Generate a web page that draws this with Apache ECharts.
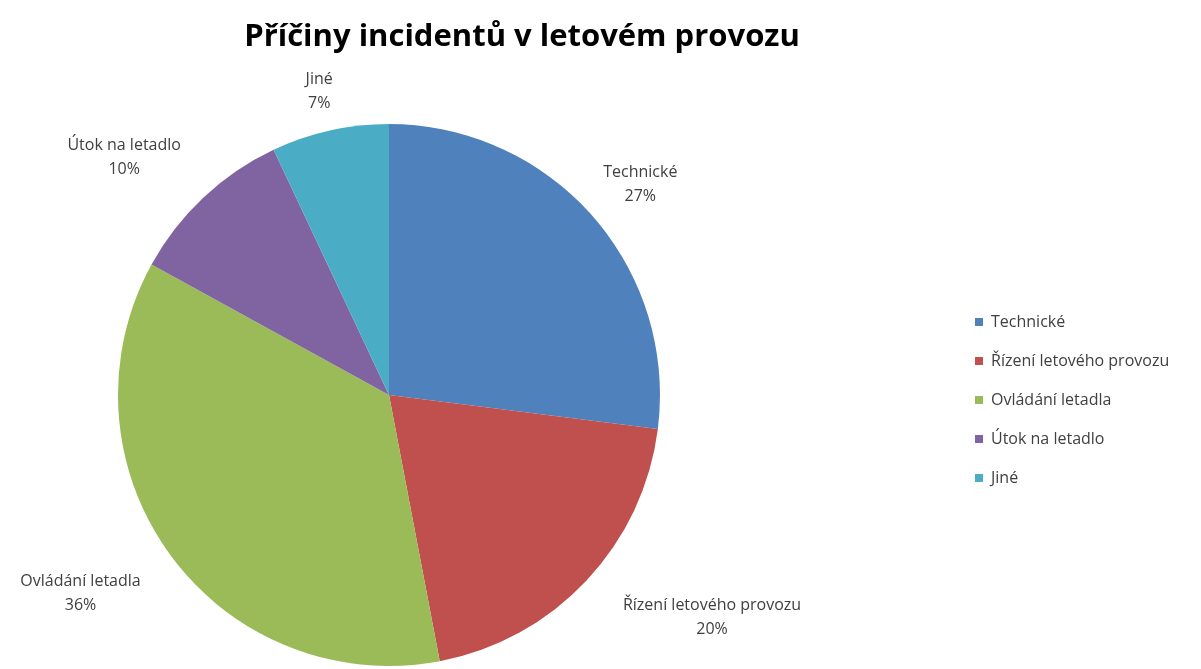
<!DOCTYPE html>
<html><head><meta charset="utf-8">
<script src="https://cdn.jsdelivr.net/npm/echarts@6/dist/echarts.min.js"></script>
<style>html,body{margin:0;padding:0;background:#fff}#c{width:1201px;height:669px}</style>
</head><body><div id="c"></div>
<script>
const titleText = 'Příčiny incidentů v letovém provozu';
const categories = ['Technické', 'Řízení letového provozu', 'Ovládání letadla', 'Útok na letadlo', 'Jiné'];
const values = [27, 20, 36, 10, 7];
const colors = ['#4F81BD', '#C0504D', '#9BBB59', '#8064A2', '#4BACC6'];
const labelOffsets = [[-6, 16], [73, -12], [-31, -3], [-30, 12], [5, 31]];

const chart = echarts.init(document.getElementById('c'));
const font = 'Open Sans, sans-serif';
chart.setOption({
  animation: false,
  color: colors,
  title: {
    text: titleText, left: 517, top: 17, textAlign: 'center',
    textStyle: { fontFamily: font, fontSize: 31, fontWeight: 'bold', color: '#000' }
  },
  legend: {
    orient: 'vertical', left: 970, top: 309, itemWidth: 8, itemHeight: 8, itemGap: 23,
    icon: 'rect', data: categories,
    textStyle: { fontFamily: font, fontSize: 16, lineHeight: 16, color: '#404040', padding: [0,0,0,3] }
  },
  series: [{
    type: 'pie', center: [389, 395], radius: 271, startAngle: 90, clockwise: true,
    label: { show: false }, labelLine: { show: false }, silent: true,
    data: categories.map((n, i) => ({ name: n, value: values[i] }))
  }, {
    type: 'pie', center: [389, 395], radius: [290, 390], startAngle: 90, clockwise: true,
    silent: true, legendHoverLink: false,
    itemStyle: { color: 'rgba(0,0,0,0)' },
    label: {
      show: true, position: 'inside', fontFamily: font, fontSize: 16, color: '#404040',
      lineHeight: 24, align: 'center', formatter: p => p.name + '\n' + Math.round(p.percent) + '%'
    },
    labelLine: { show: false },
    data: categories.map((n, i) => ({ name: n, value: values[i], label: { offset: labelOffsets[i] } }))
  }]
});
</script></body></html>
